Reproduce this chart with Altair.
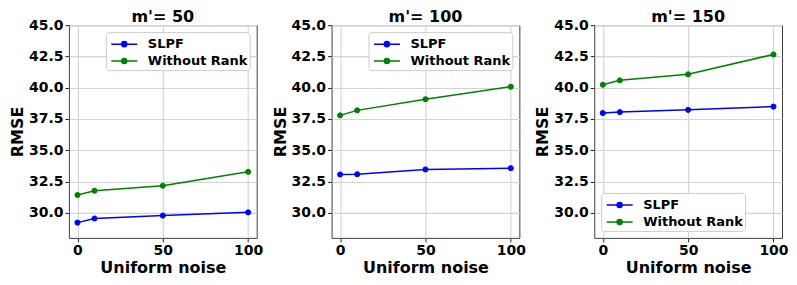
import altair as alt
import pandas as pd

noise = [0, 10, 50, 100]
panels = ["m'= 50", "m'= 100", "m'= 150"]
series = ["SLPF", "Without Rank"]
colors = ["#0000ff", "#008000"]

slpf_50 = [29.22, 29.55, 29.78, 30.04]
slpf_100 = [33.07, 33.09, 33.47, 33.57]
slpf_150 = [37.98, 38.05, 38.23, 38.49]
wr_50 = [31.43, 31.77, 32.17, 33.28]
wr_100 = [37.79, 38.19, 39.08, 40.08]
wr_150 = [40.24, 40.59, 41.07, 42.66]

y_ticks = [30.0, 32.5, 35.0, 37.5, 40.0, 42.5, 45.0]
x_ticks = [0, 50, 100]
legend_orients = ["top-right", "top-right", "bottom-left"]

values = {
    panels[0]: (slpf_50, wr_50),
    panels[1]: (slpf_100, wr_100),
    panels[2]: (slpf_150, wr_150),
}

rows = []
for p in panels:
    for s, vals in zip(series, values[p]):
        for x, y in zip(noise, vals):
            rows.append({"panel": p, "series": s, "noise": x, "rmse": y})
df = pd.DataFrame(rows)

FONT = "DejaVu Sans"
# legend handle: a short line with a dot in its middle (unit = 9px)
SYMBOL = ("M-0.73,0L2.16,0M0.99,0A0.28,0.28,0,1,1,0.43,0"
          "A0.28,0.28,0,1,1,0.99,0Z")


def panel_chart(p, orient):
    base = alt.Chart(df[df["panel"] == p])
    xenc = alt.X("noise:Q",
                 scale=alt.Scale(domain=[-5, 105], nice=False, zero=False),
                 axis=alt.Axis(values=x_ticks, title="Uniform noise", format="d"))
    yenc = alt.Y("rmse:Q",
                 scale=alt.Scale(domain=[28.0, 45.0], nice=False, zero=False),
                 axis=alt.Axis(values=y_ticks, title="RMSE", format=".1f"))
    legend = alt.Legend(orient=orient, title=None, symbolType=SYMBOL,
                        symbolSize=324, symbolStrokeWidth=1.5, offset=7)
    cscale = alt.Scale(domain=series, range=colors)
    line = base.mark_line(strokeWidth=1.5).encode(
        x=xenc, y=yenc,
        color=alt.Color("series:N", scale=cscale, legend=legend),
    )
    pts = base.mark_point(filled=True, size=26, opacity=1, strokeWidth=1).encode(
        x=xenc, y=yenc,
        color=alt.Color("series:N", scale=cscale, legend=legend),
        stroke=alt.Stroke("series:N", scale=cscale, legend=legend),
    )
    return alt.layer(line, pts).properties(
        width=188, height=213,
        title=alt.TitleParams(p, fontSize=16, fontWeight="bold", font=FONT, offset=-7,
                              color="black", frame="group"),
    )


charts = [panel_chart(p, o) for p, o in zip(panels, legend_orients)]

chart = alt.hconcat(*charts, spacing=75, bounds="flush").resolve_scale(
    color="independent", stroke="independent"
).resolve_legend(color="independent", stroke="independent").properties(
    padding=0
).configure(font=FONT).configure_view(
    stroke="#404040", strokeWidth=1
).configure_axis(
    domain=False, grid=True, gridColor="#d3d3d3", gridWidth=1.1,
    ticks=True, tickColor="#222222", tickSize=4,
    labelFont=FONT, labelFontSize=14, labelFontWeight="bold", labelColor="black", labelPadding=2,
    titleFont=FONT, titleFontSize=16, titleFontWeight="bold", titleColor="black",
).configure_axisX(titlePadding=2).configure_axisY(titlePadding=3).configure_legend(
    labelFont=FONT, labelFontSize=13, labelFontWeight="bold", labelColor="black",
    padding=2, rowPadding=0, labelOffset=20, fillColor="white", strokeColor="#cccccc",
    cornerRadius=3,
)

chart.save("out.html", embed_options={"renderer": "svg", "actions": False})
